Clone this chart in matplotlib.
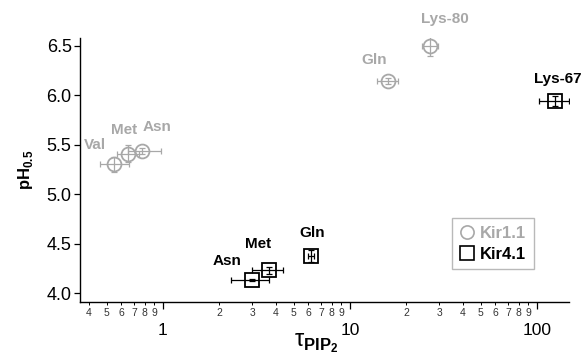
import numpy as np
import matplotlib.pyplot as plt
from matplotlib.lines import Line2D
from matplotlib.ticker import LogLocator, FixedLocator, FuncFormatter

plt.rcParams['font.family'] = ['Liberation Sans', 'DejaVu Sans']
plt.rcParams['mathtext.fontset'] = 'custom'
plt.rcParams['mathtext.rm'] = 'Liberation Sans'
plt.rcParams['mathtext.bf'] = 'Liberation Sans:bold'

# Kir1.1 (grey circles)
kir11_names = ['Val', 'Met', 'Asn', 'Gln', 'Lys-80']
kir11_tau = [0.55, 0.65, 0.77, 15.9, 26.8]
kir11_tau_lo = [0.46, 0.57, 0.65, 14.0, 24.2]
kir11_tau_hi = [0.66, 0.74, 0.98, 18.0, 29.5]
kir11_ph = [5.30, 5.41, 5.44, 6.14, 6.50]
kir11_ph_err = [0.08, 0.09, 0.03, 0.03, 0.10]

# Kir4.1 (black squares)
kir41_names = ['Asn', 'Met', 'Gln', 'Lys-67']
kir41_tau = [3.0, 3.7, 6.19, 125.0]
kir41_tau_lo = [2.31, 3.0, 5.95, 102.0]
kir41_tau_hi = [3.7, 4.37, 6.45, 148.0]
kir41_ph = [4.13, 4.23, 4.38, 5.94]
kir41_ph_err = [0.01, 0.035, 0.06, 0.05]

grey = '#a8a8a8'

fig = plt.figure(figsize=(5.84, 3.54), dpi=100)
ax = fig.add_axes([0.137, 0.147, 0.837, 0.746])


def draw(tau, lo, hi, ph, err, color, marker, ms):
    tau = np.array(tau)
    xerr = [tau - np.array(lo), np.array(hi) - tau]
    ax.errorbar(tau, ph, xerr=xerr, yerr=err, fmt='none', ecolor=color,
                elinewidth=0.9, capsize=2.5, capthick=0.9, zorder=2)
    ax.plot(tau, ph, linestyle='none', marker=marker, ms=ms, mfc='none',
            mec=color, mew=1.3, zorder=3)


draw(kir11_tau, kir11_tau_lo, kir11_tau_hi, kir11_ph, kir11_ph_err, grey, 'o', 10)
draw(kir41_tau, kir41_tau_lo, kir41_tau_hi, kir41_ph, kir41_ph_err, 'black', 's', 10)

# point labels (offsets in points)
kir11_offsets = [(-14, 14), (-3, 17), (11, 17), (-10, 15), (11, 19)]
for name, x, y, off in zip(kir11_names, kir11_tau, kir11_ph, kir11_offsets):
    ax.annotate(name, (x, y), xytext=off, textcoords='offset points',
                ha='center', va='center', fontsize=11, fontweight='bold', color=grey)

kir41_offsets = [(-18, 14), (-8, 19), (1, 16), (2, 16)]
for name, x, y, off in zip(kir41_names, kir41_tau, kir41_ph, kir41_offsets):
    ax.annotate(name, (x, y), xytext=off, textcoords='offset points',
                ha='center', va='center', fontsize=11, fontweight='bold', color='black')

ax.set_xscale('log')
ax.set_xlim(0.36, 148)
ax.set_ylim(3.912, 6.578)
ax.set_yticks([4.0, 4.5, 5.0, 5.5, 6.0, 6.5])
ax.yaxis.set_major_formatter(FuncFormatter(lambda v, p: '%.1f' % v))

ax.xaxis.set_major_locator(FixedLocator([1, 10, 100]))
ax.xaxis.set_major_formatter(FuncFormatter(lambda v, p: '%g' % v))
ax.xaxis.set_minor_locator(LogLocator(base=10, subs=np.arange(2, 10), numticks=20))


def minor_fmt(v, p):
    lead = v / 10 ** np.floor(np.log10(v) + 1e-9)
    return '%d' % round(lead)


ax.xaxis.set_minor_formatter(FuncFormatter(minor_fmt))

for s in ['top', 'right']:
    ax.spines[s].set_visible(False)
for s in ['left', 'bottom']:
    ax.spines[s].set_linewidth(1.0)

ax.tick_params(axis='y', which='major', labelsize=13, length=4, width=0.9, pad=2)
ax.tick_params(axis='x', which='major', labelsize=12.5, length=5, width=0.9, pad=10)
ax.tick_params(axis='x', which='minor', labelsize=7.5, length=2.5, width=0.7, pad=2,
               labelcolor='#333333')

ax.set_ylabel(r'pH$_{\mathbf{0.5}}$', fontsize=12, fontweight='bold')
ax.yaxis.set_label_coords(-0.092, 0.5)
ax.set_xlabel(r'τ$_{\mathbf{PIP_2}}$', fontsize=17)
ax.xaxis.set_label_coords(0.483, -0.112)

handles = [Line2D([], [], ls='none', marker='o', ms=9.5, mfc='none', mec=grey, mew=1.2),
           Line2D([], [], ls='none', marker='s', ms=9.5, mfc='none', mec='black', mew=1.2)]
leg = ax.legend(handles, ['Kir1.1', 'Kir4.1'], loc='upper left',
                bbox_to_anchor=(0.762, 0.317), borderaxespad=0, fancybox=False,
                edgecolor=grey, handlelength=0.8, handletextpad=0.4,
                prop={'weight': 'bold', 'size': 12}, borderpad=0.45, labelspacing=0.35)
leg.get_frame().set_linewidth(1.0)
leg.get_texts()[0].set_color(grey)

fig.savefig('out.png', dpi=100)
